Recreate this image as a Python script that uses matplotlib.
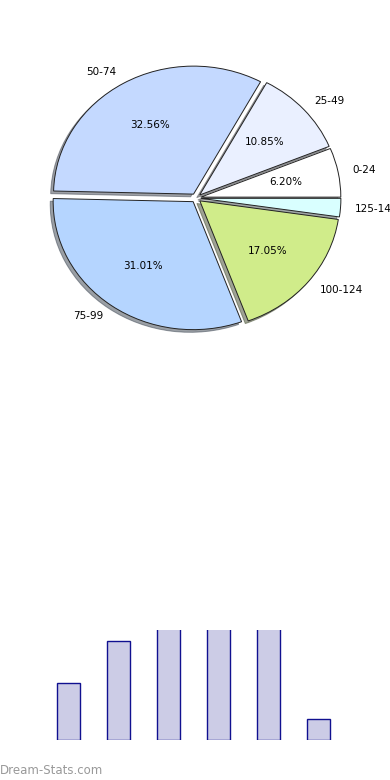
import matplotlib
matplotlib.use('Agg')
import matplotlib.pyplot as plt

# pie data (counts per group)
groups = ['0-24', '25-49', '50-74', '75-99', '100-124', '125-149']
counts = [8, 14, 42, 40, 22, 3]
pie_colors = ['#FFFFFF', '#EAF0FF', '#C4D9FF', '#B5D5FF', '#D0EC8A', '#D9FFFF']

# bar data (tops run past the visible area)
bar_pos = [0, 1, 2, 3, 4, 5]
bar_vals = [57, 99, 125, 120, 130, 21]

fig = plt.figure(figsize=(3.9, 7.8), dpi=100)

# pie, slightly flattened like the original
w, h = 280, 256
ax = fig.add_axes([(196 - w/2)/390, (780 - 198 - h/2)/780, w/390, h/780])
wedges, texts, autotexts = ax.pie(
    counts, labels=groups, colors=pie_colors, startangle=0, counterclock=True,
    explode=[0.035]*len(counts), shadow={'ox': -0.015, 'oy': -0.015, 'shade': 0.7},
    labeldistance=1.1, pctdistance=0.62,
    autopct=lambda p: '%.2f%%' % p if p > 3 else '',
    wedgeprops={'edgecolor': '#222222', 'linewidth': 0.7},
    textprops={'fontsize': 7.5})
for t in texts:
    t.set_clip_on(False)
ax.set_aspect('auto')
ax.set_xlim(-1, 1)
ax.set_ylim(-1, 1)
ax.axis('off')

# bars at the bottom
bx = fig.add_axes([0, 40/780, 1, 110/780])
bx.bar(bar_pos, bar_vals, width=0.45, color='#CCCCE6', edgecolor='#101090', linewidth=1.0)
bx.set_xlim(-68.5/50, (390-68.5)/50)
bx.set_ylim(0, 110)
bx.axis('off')

fig.text(0.0, 9/780, 'Dream-Stats.com', color='#999999', fontsize=8.5, va='center', ha='left')

fig.savefig('out.png', dpi=100)
